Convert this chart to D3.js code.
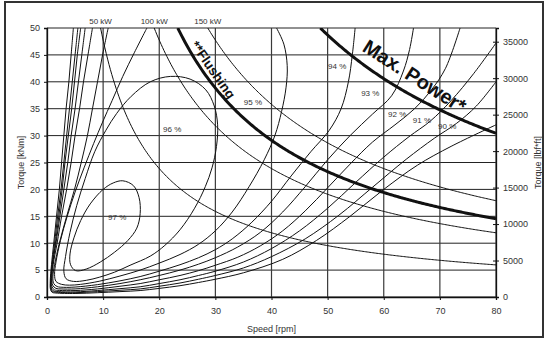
<!DOCTYPE html>
<html>
<head>
<meta charset="utf-8">
<script src="https://cdn.jsdelivr.net/npm/d3@7"></script>
<style>
  body { margin: 0; background: #fff; }
  svg { display: block; }
  text { font-family: "Liberation Sans", Arial, sans-serif; }
</style>
</head>
<body>
<svg id="chart" width="546" height="340"></svg>
<script>
// ---- axis ticks ----
const speedTicks = [0, 10, 20, 30, 40, 50, 60, 70, 80];
const torqueTicks = [0, 5, 10, 15, 20, 25, 30, 35, 40, 45, 50];
const lbfftTicks = [0, 5000, 10000, 15000, 20000, 25000, 30000, 35000];
const KNM_TO_LBFFT = 737.56;

// ---- constant power lines [kW] ----
const powerValues = [50, 100, 150];
const powerLabels = ["50 kW", "100 kW", "150 kW"];
const flushingPower = 122;
const maxPower = 255;

// ---- efficiency contours, points as [speed rpm, torque kNm] ----
const effLabels = ["97 %", "96 %", "95 %", "94 %", "93 %", "92 %", "91 %", "90 %"];
const effLabelAt = [[12.5, 14.9], [22.3, 31.2], [36.7, 36.2], [51.7, 43.0], [57.6, 37.9], [62.4, 34.0], [66.8, 32.9], [71.3, 31.8]];

const eff97 = [[13.5,21.6],[15.4,20.7],[16.4,18.5],[16.6,15.5],[16,12.8],[14.4,10.5],[12,8.3],[9.5,6.5],[7,5.2],[5.1,4.9],[4.2,6],[4.1,8],[4.8,11],[6,14.2],[7.7,17.3],[10,20],[11.8,21.2]];
const eff96 = [[22,41],[25.5,40.5],[28.3,38.5],[29.8,35.5],[30.4,32],[30.2,28],[29.4,24],[28.2,20.5],[26.3,16.5],[23.7,12.5],[21,9.6],[18.4,7.6],[14.8,5.9],[12,4.6],[9.4,3.7],[7,3.1],[4.7,2.9],[3.4,3.4],[3.0,4.8],[3.3,7.5],[4.1,12],[5.3,17],[6.8,22],[8.5,27],[10.5,31],[12.4,34.1],[15,37.3],[18.4,40]];
const eff95 = [[17.8,50],[15.6,45.5],[13.5,41],[11.6,36.5],[9.9,32.5],[8.3,28.5],[6.6,24],[5,19.5],[3.6,15],[2.4,10.5],[1.6,6.5],[1.35,4.2],[1.6,2.9],[2.6,2.35],[4,2.2],[6,2.35],[9.4,2.95],[13,3.9],[16.6,5],[20,6.3],[23.7,7.9],[27,9.8],[30,12.3],[33,15.8],[36,20.5],[38.7,25.5],[40.6,30],[41.8,34.5],[42.6,39],[42.8,43],[42.2,47],[40.9,50]];
const eff94 = [[10.9,50],[9.9,45],[9.0,40],[8.1,35],[7.2,30],[6.1,25],[4.9,20],[3.5,15],[2.2,10],[1.35,6],[1.05,3.8],[1.2,2.5],[1.8,1.95],[3,1.8],[5,1.85],[9,2.3],[13,3.0],[16.6,3.8],[20,4.8],[23.7,6.0],[27,7.3],[30,8.8],[33,10.8],[36.5,13.9],[40,17.8],[43.5,22.5],[47,27],[50.3,31],[52.4,35],[53.7,40],[54.4,45],[54.9,50]];
const eff93 = [[8.1,50],[7.3,45],[6.5,40],[5.8,35],[5.0,30],[4.3,25],[3.5,20],[2.6,15],[1.8,10],[1.1,6],[0.9,3.6],[1.0,2.2],[1.6,1.6],[2.5,1.5],[5,1.5],[9,1.9],[13,2.5],[16.6,3.2],[20,4.0],[23.7,5.0],[27,6.1],[30,7.3],[34,9.3],[38,12],[42,15.8],[46,20.5],[50,25.5],[54,30],[58,34],[61.4,37.4],[63.5,42],[64.6,46],[65.3,50]];
const eff92 = [[6.8,50],[6.2,45],[5.6,40],[5.0,35],[4.3,30],[3.7,25],[3.0,20],[2.3,15],[1.6,10],[1.0,6],[0.8,3.4],[0.85,2.0],[1.3,1.35],[2.2,1.22],[5,1.2],[9,1.5],[13,2.0],[16.6,2.5],[20,3.2],[23.7,4.0],[27,4.9],[30,5.9],[34,7.4],[38,9.5],[42,12.3],[46,16],[50,20.3],[54,24.7],[58,28.8],[62,32],[65.5,35],[68.5,38.5],[71,42.5],[73.6,50]];
const eff91 = [[6.0,50],[5.4,45],[4.9,40],[4.4,35],[3.8,30],[3.2,25],[2.7,20],[2.1,15],[1.5,10],[0.95,6],[0.7,3.2],[0.75,1.8],[1.1,1.15],[2,1.0],[5,0.95],[9,1.2],[13,1.55],[16.6,1.9],[20,2.5],[23.7,3.2],[27,4.0],[30,4.8],[35,6.5],[40,9],[45,12.3],[50,16.5],[55,21.3],[60,26],[64.5,29.8],[68.3,32.7],[72,36.5],[76,41.5],[80,47.2]];
const eff90 = [[5.5,50],[5.0,45],[4.5,40],[4.0,35],[3.5,30],[3.0,25],[2.5,20],[1.9,15],[1.35,10],[0.9,6],[0.65,3],[0.7,1.6],[1.0,1.0],[1.8,0.88],[5,0.8],[9,1.0],[13,1.25],[16.6,1.5],[20,2.0],[23.7,2.6],[27,3.3],[30,4.0],[35,5.4],[40,7.5],[46,10.8],[52,15.2],[58,20.4],[64,25.6],[69,29.5],[73,32.3],[76.5,35.5],[80,40]];
const eff89 = [[4.7,50],[4.3,45],[3.9,40],[3.4,35],[3.0,30],[2.6,25],[2.2,20],[1.7,15],[1.2,10],[0.8,6],[0.58,2.9],[0.62,1.45],[0.9,0.88],[1.6,0.74],[5,0.65],[9,0.8],[13,1.0],[16.6,1.2],[20,1.6],[23.7,2.1],[27,2.7],[30,3.3],[35,4.5],[42,7],[48,10.5],[54,15],[60,20],[66,24.5],[72,28],[80,32]];

const closedContours = [eff97, eff96];
const openContours = [eff95, eff94, eff93, eff92, eff91, eff90, eff89];

// ---- layout ----
const W = 546, H = 340;
const plot = { left: 47, right: 496, top: 28, bottom: 297 };

const svg = d3.select("#chart");
const x = d3.scaleLinear().domain([0, 80]).range([plot.left, plot.right]);
const y = d3.scaleLinear().domain([0, 50]).range([plot.bottom, plot.top]);
const yR = d3.scaleLinear().domain([0, 50 * KNM_TO_LBFFT]).range([plot.bottom, plot.top]);

svg.append("rect").attr("width", W).attr("height", H).attr("fill", "#fff");

// outer frame
svg.append("rect")
  .attr("x", 5).attr("y", 2).attr("width", 538).attr("height", 335)
  .attr("fill", "none").attr("stroke", "#333").attr("stroke-width", 2);

svg.append("defs").append("clipPath").attr("id", "plotClip")
  .append("rect")
  .attr("x", plot.left).attr("y", plot.top)
  .attr("width", plot.right - plot.left).attr("height", plot.bottom - plot.top);

// grid
const grid = svg.append("g");
grid.selectAll("line.h").data(torqueTicks).join("line")
  .attr("x1", plot.left).attr("x2", plot.right)
  .attr("y1", d => y(d)).attr("y2", d => y(d))
  .attr("stroke", "#222").attr("stroke-width", 1);
grid.selectAll("line.v").data(speedTicks).join("line")
  .attr("x1", d => x(d)).attr("x2", d => x(d))
  .attr("y1", plot.top).attr("y2", plot.bottom)
  .attr("stroke", "#3a3a3a").attr("stroke-width", 1.2);

// curves
const line = d3.line().x(d => x(d[0])).y(d => y(d[1])).curve(d3.curveCatmullRom.alpha(0.5));
const closedLine = d3.line().x(d => x(d[0])).y(d => y(d[1])).curve(d3.curveCatmullRomClosed.alpha(0.5));

const curves = svg.append("g").attr("clip-path", "url(#plotClip)").attr("fill", "none");

curves.selectAll("path.closed").data(closedContours).join("path")
  .attr("d", closedLine).attr("stroke", "#111").attr("stroke-width", 1);
curves.selectAll("path.open").data(openContours).join("path")
  .attr("d", line).attr("stroke", "#111").attr("stroke-width", 1);

// constant power hyperbolas: T [kNm] = P [kW] * 60 / (2*pi*n)
const torqueAt = (p, n) => p * 60 / (2 * Math.PI * n);
const powerCurve = p => {
  const n0 = torqueAt(p, 50);
  return d3.range(n0, 80.001, 0.25).concat([80]).map(n => [n, torqueAt(p, n)]);
};
const powerLine = d3.line().x(d => x(d[0])).y(d => y(d[1]));

curves.selectAll("path.power").data(powerValues).join("path")
  .attr("d", p => powerLine(powerCurve(p)))
  .attr("stroke", "#111").attr("stroke-width", 1);

curves.selectAll("path.thick").data([flushingPower, maxPower]).join("path")
  .attr("d", p => powerLine(powerCurve(p)))
  .attr("stroke", "#111").attr("stroke-width", 3);

// axes
const axisText = sel => sel.selectAll("text").attr("font-size", 9).attr("fill", "#333")
  .attr("font-family", "Liberation Sans, Arial, sans-serif");

const gL = svg.append("g").attr("transform", `translate(${plot.left},0)`)
  .call(d3.axisLeft(y).tickValues(torqueTicks).tickSize(3).tickPadding(4));
gL.select(".domain").attr("stroke", "#111").attr("stroke-width", 1.3);
gL.selectAll(".tick line").attr("stroke", "#111");
axisText(gL);

const gB = svg.append("g").attr("transform", `translate(0,${plot.bottom})`)
  .call(d3.axisBottom(x).tickValues(speedTicks).tickSize(3).tickPadding(8));
gB.select(".domain").attr("stroke", "#111").attr("stroke-width", 1.3);
gB.selectAll(".tick line").attr("stroke", "#111");
axisText(gB);

const gR = svg.append("g").attr("transform", `translate(${plot.right},0)`)
  .call(d3.axisRight(yR).tickValues(lbfftTicks).tickSize(3).tickPadding(4).tickFormat(d3.format("d")));
gR.select(".domain").attr("stroke", "#111").attr("stroke-width", 1.3);
gR.selectAll(".tick line").attr("stroke", "#111").attr("x1", -3);
axisText(gR);

// axis titles
svg.append("text").attr("x", (plot.left + plot.right) / 2).attr("y", 332)
  .attr("text-anchor", "middle").attr("font-size", 9).attr("fill", "#333").text("Speed [rpm]");
svg.append("text").attr("transform", `translate(24,${(plot.top + plot.bottom) / 2}) rotate(-90)`)
  .attr("text-anchor", "middle").attr("font-size", 9).attr("fill", "#333").text("Torque [kNm]");
svg.append("text").attr("transform", `translate(541,${(plot.top + plot.bottom) / 2}) rotate(-90)`)
  .attr("text-anchor", "middle").attr("font-size", 9).attr("fill", "#333").text("Torque [lbf*ft]");

// power labels above the plot
svg.selectAll("text.pl").data(powerValues).join("text")
  .attr("x", p => x(torqueAt(p, 50))).attr("y", 23.5)
  .attr("text-anchor", "middle").attr("font-size", 8).attr("fill", "#333")
  .text((p, i) => powerLabels[i]);

// efficiency labels
svg.selectAll("text.el").data(effLabels).join("text")
  .attr("x", (d, i) => x(effLabelAt[i][0])).attr("y", (d, i) => y(effLabelAt[i][1]) + 3)
  .attr("text-anchor", "middle").attr("font-size", 8).attr("fill", "#333")
  .text(d => d);

// labels on the thick lines
svg.append("text")
  .attr("transform", `translate(${x(25.5)},${y(46.8)}) rotate(55)`)
  .attr("font-size", 13.5).attr("font-weight", "bold").attr("fill", "#111")
  .text("**Flushing");
svg.append("text")
  .attr("transform", `translate(${x(56.0)},${y(45.8)}) rotate(32.5)`)
  .attr("font-size", 20).attr("font-weight", "bold").attr("fill", "#111")
  .text("Max. Power*");
</script>
</body>
</html>
